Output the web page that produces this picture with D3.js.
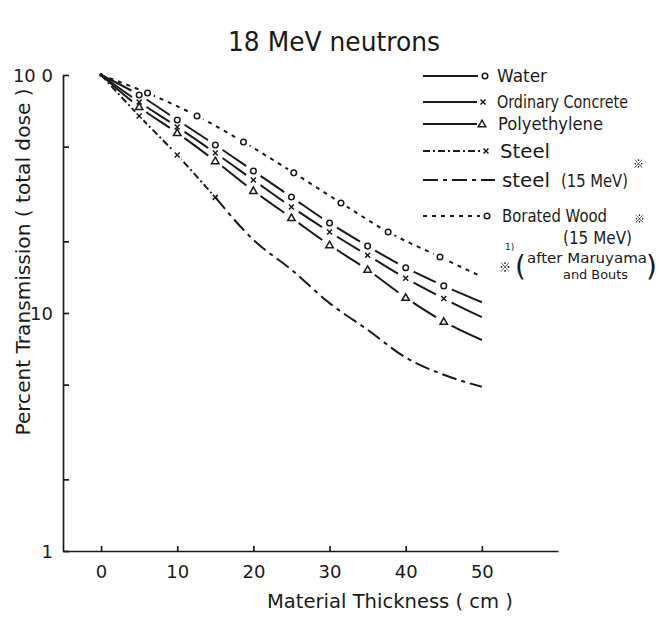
<!DOCTYPE html>
<html><head><meta charset="utf-8">
<script src="https://cdn.jsdelivr.net/npm/d3@7"></script>
<style>
body{margin:0;background:#fff}
text{font-family:"DejaVu Sans","Noto Sans CJK JP",sans-serif;fill:#1a1a1a}
text.ref{font-family:"Noto Sans CJK JP","Noto Sans CJK SC",sans-serif;filter:grayscale(1) brightness(0.2)}
</style>
</head><body>
<svg id="c" width="659" height="617"></svg>
<script>
// ---- data ----
const thickness = [0, 5, 10, 15, 20, 25, 30, 35, 40, 45, 50];
const water        = [100, 82.4, 64.7, 50.8, 39.5, 30.7, 23.9, 19.1, 15.5, 13.0, 11.1];
const concrete     = [100, 77.0, 60.5, 47.0, 36.2, 27.9, 21.9, 17.5, 14.0, 11.5, 9.6];
const polyethylene = [100, 73.4, 57.1, 43.5, 32.6, 25.1, 19.3, 15.2, 11.6, 9.2, 7.7];
const steelThickness = [0, 5, 10, 15];
const steel          = [100, 67.3, 46.1, 30.6];
const steel15Thickness = [15, 20, 25, 30, 35, 40, 45, 50];
const steel15          = [30.6, 20.3, 15.2, 11.0, 8.5, 6.5, 5.5, 4.9];
const woodThickness = [0, 6.1, 12.6, 18.7, 25.3, 31.5, 37.7, 44.5, 50];
const wood          = [100, 84.0, 67.3, 52.3, 38.8, 29.0, 21.9, 17.2, 14.2];
const xTicks = [0, 10, 20, 30, 40, 50];
const yTicks = [1, 2, 5, 10, 20, 50, 100];
const yTickLabels = {1: "1", 10: "10", 100: "10 0"};
const legendLabels = ["Water", "Ordinary Concrete", "Polyethylene", "Steel", "steel", "Borated Wood"];

const svg = d3.select("#c");
const ink = "#1a1a1a";
const x = d3.scaleLinear().domain([-5, 60]).range([63, 558]);
const y = d3.scaleLog().domain([1, 100]).range([551, 75]);

// title
svg.append("text").attr("x", 334).attr("y", 51).attr("text-anchor", "middle")
  .attr("font-size", 27).attr("textLength", 212).attr("lengthAdjust", "spacingAndGlyphs")
  .text("18 MeV neutrons");

// axes
const xAxis = d3.axisBottom(x).tickValues(xTicks).tickSize(-5).tickSizeOuter(0).tickPadding(14);
const gx = svg.append("g").attr("transform", "translate(0,551)").call(xAxis);
const yAxis = d3.axisLeft(y).tickValues(yTicks).tickSize(-6).tickSizeOuter(0).tickPadding(10)
  .tickFormat(d => yTickLabels[d] || "");
const gy = svg.append("g").attr("transform", "translate(63,0)").call(yAxis);
[gx, gy].forEach(g => {
  g.selectAll("path,line").attr("stroke", ink).attr("stroke-width", 1.7);
  g.selectAll("text").attr("font-size", 18).attr("fill", ink).style("font-family", '"DejaVu Sans",sans-serif');
});
gy.selectAll("text").attr("dy", "0.35em");

svg.append("text").attr("x", 390).attr("y", 608).attr("text-anchor", "middle")
  .attr("font-size", 20).attr("textLength", 246).attr("lengthAdjust", "spacingAndGlyphs")
  .text("Material Thickness ( cm )");
svg.append("text").attr("transform", "translate(30,262) rotate(-90)").attr("text-anchor", "middle")
  .attr("font-size", 20).attr("textLength", 347).attr("lengthAdjust", "spacingAndGlyphs")
  .text("Percent Transmission ( total dose )");

// series
const series = [
  {id: "w", xs: thickness, ys: water, marker: "circle", dash: null, marks: [1,2,3,4,5,6,7,8,9], gap: 9},
  {id: "c", xs: thickness, ys: concrete, marker: "x", dash: null, marks: [1,2,3,4,5,6,7,8,9], gap: 9},
  {id: "p", xs: thickness, ys: polyethylene, marker: "tri", dash: null, marks: [1,2,3,4,5,6,7,8,9], gap: 9},
  {id: "s", xs: steelThickness, ys: steel, marker: "x", dash: "7,3,2,3", marks: [1,2,3], gap: 6},
  {id: "s15", xs: steel15Thickness, ys: steel15, marker: null, dash: "15,5,4,5", marks: [], gap: 0},
  {id: "bw", xs: woodThickness, ys: wood, marker: "circle", dash: "4,5", marks: [1,2,3,4,5,6,7], gap: 7}
];

const defs = svg.append("defs");
const line = d3.line().curve(d3.curveMonotoneX);

function drawMarker(g, type, cx, cy) {
  if (type === "circle") {
    g.append("circle").attr("cx", cx).attr("cy", cy).attr("r", 2.8)
      .attr("fill", "none").attr("stroke", ink).attr("stroke-width", 1.5);
  } else if (type === "x") {
    const s = 2.5;
    g.append("path").attr("d", `M${cx-s},${cy-s}L${cx+s},${cy+s}M${cx+s},${cy-s}L${cx-s},${cy+s}`)
      .attr("stroke", ink).attr("stroke-width", 1.5);
  } else if (type === "tri") {
    g.append("path").attr("transform", `translate(${cx},${cy+0.5})`)
      .attr("d", d3.symbol(d3.symbolTriangle, 24)())
      .attr("fill", "none").attr("stroke", ink).attr("stroke-width", 1.5);
  }
}

const plot = svg.append("g");
series.forEach(s => {
  const pts = s.xs.map((v, i) => [x(v), y(s.ys[i])]);
  const m = defs.append("mask").attr("id", "m" + s.id).attr("maskUnits", "userSpaceOnUse")
    .attr("x", 0).attr("y", 0).attr("width", 659).attr("height", 617);
  m.append("rect").attr("width", 659).attr("height", 617).attr("fill", "white");
  s.marks.forEach(i => m.append("circle").attr("cx", pts[i][0]).attr("cy", pts[i][1]).attr("r", s.gap).attr("fill", "black"));
  plot.append("path").attr("d", line(pts)).attr("fill", "none").attr("stroke", ink)
    .attr("stroke-width", 2).attr("stroke-dasharray", s.dash).attr("mask", `url(#m${s.id})`);
  s.marks.forEach(i => drawMarker(plot, s.marker, pts[i][0], pts[i][1]));
});
plot.append("circle").attr("cx", x(0)).attr("cy", y(100)).attr("r", 2).attr("fill", ink);

// legend
const legendRows = [
  {label: legendLabels[0], yy: 76,  dash: null, x2: 478, marker: "circle", mx: 485, tx: 497, fs: 18, tl: 50},
  {label: legendLabels[1], yy: 102, dash: null, x2: 477, marker: "x", mx: 483, tx: 497, fs: 17, tl: 131},
  {label: legendLabels[2], yy: 124, dash: null, x2: 477, marker: "tri", mx: 482, tx: 498, fs: 18, tl: 105},
  {label: legendLabels[3], yy: 151, dash: "7,3,2,3", x2: 481, marker: "x", mx: 486, tx: 500, fs: 20, tl: 50},
  {label: legendLabels[4], yy: 180, dash: "15,5,4,5", x2: 495, marker: null, mx: 0, tx: 502, fs: 19, tl: 48},
  {label: legendLabels[5], yy: 216, dash: "4,5", x2: 480, marker: "circle", mx: 487, tx: 502, fs: 18, tl: 105}
];
const lg = svg.append("g");
legendRows.forEach(r => {
  lg.append("line").attr("x1", 423).attr("x2", r.x2).attr("y1", r.yy).attr("y2", r.yy)
    .attr("stroke", ink).attr("stroke-width", 1.8).attr("stroke-dasharray", r.dash);
  if (r.marker) drawMarker(lg, r.marker, r.mx, r.yy);
  lg.append("text").attr("x", r.tx).attr("y", r.yy).attr("dy", "0.36em")
    .attr("font-size", r.fs).attr("textLength", r.tl).attr("lengthAdjust", "spacingAndGlyphs").text(r.label);
});
function txt(xx, yy, s, fs, tl, cls) {
  const t = lg.append("text").attr("x", xx).attr("y", yy).attr("dy", "0.36em").attr("font-size", fs).text(s);
  if (tl) t.attr("textLength", tl).attr("lengthAdjust", "spacingAndGlyphs");
  if (cls) t.attr("class", cls).attr("fill", ink);
  return t;
}
txt(561, 181, "(15 MeV)", 18, 67);
txt(633, 164, "\u203B", 11, null, "ref");
txt(634, 219, "\u203B", 11, null, "ref");
txt(563, 238, "(15 MeV)", 18, 69);
txt(505, 247, "1)", 9);
txt(499, 268, "\u203B", 12, null, "ref");
txt(515, 266, "(", 28);
txt(527, 258, "after Maruyama", 14, 120);
txt(563, 275, "and Bouts", 12, 65);
txt(646, 266, ")", 28);
</script>
</body></html>
